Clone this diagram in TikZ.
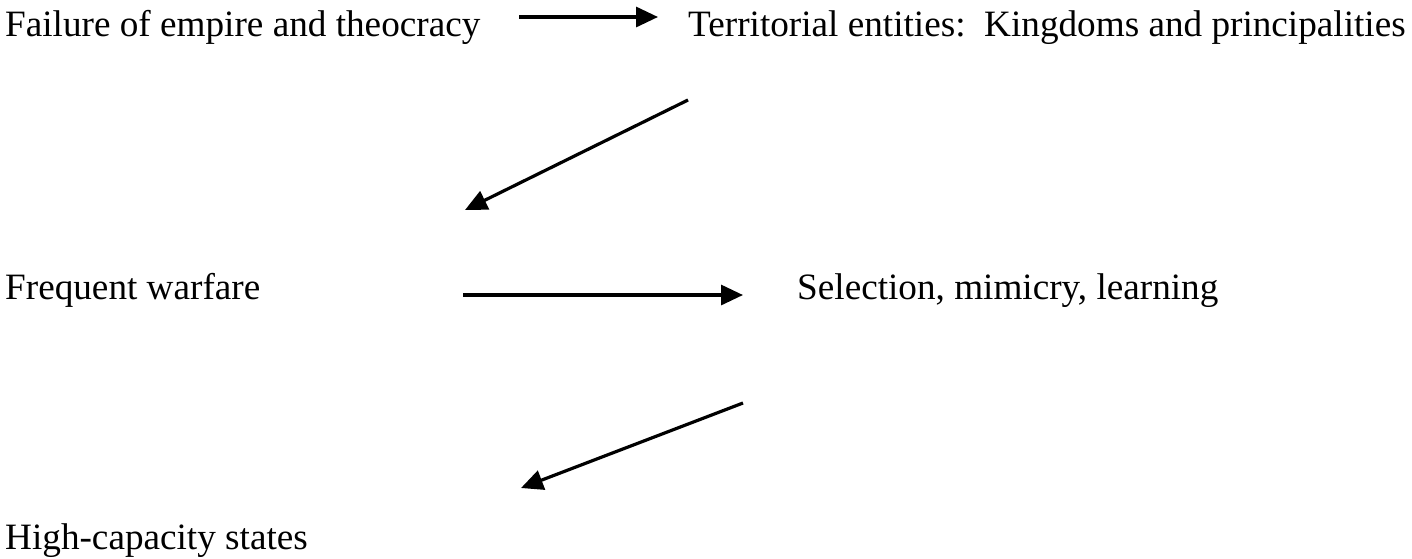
\documentclass[tikz,border=0pt]{standalone}
\usepackage{fontspec}
\setmainfont{Liberation Serif}
\usetikzlibrary{arrows.meta}
\begin{document}
\begin{tikzpicture}[x=1pt,y=-1pt,
  lbl/.style={anchor=base west,inner sep=0pt,font=\fontsize{37.2}{44}\selectfont},
  arr/.style={line width=3.2pt,-{Triangle[length=22pt,width=20pt]}}]
\useasboundingbox (0,0) rectangle (1412,558);
\node[lbl] (fail) at (5,36) {Failure of empire and theocracy};
\node[lbl] (terr) at (688,36) {Territorial entities:\ \ Kingdoms and principalities};
\node[lbl] (war) at (5,299) {Frequent warfare};
\node[lbl] (sel) at (797,299) {Selection, mimicry, learning};
\node[lbl] (high) at (5,549) {High-capacity states};
\coordinate (a1s) at (519,17);
\coordinate (a1e) at (658,17);
\coordinate (a2s) at (688,100);
\coordinate (a2e) at (465,210);
\coordinate (a3s) at (463,295);
\coordinate (a3e) at (743,295);
\coordinate (a4s) at (743,403);
\coordinate (a4e) at (521,488);
\draw[arr] (a1s) -- (a1e);
\draw[arr] (a2s) -- (a2e);
\draw[arr] (a3s) -- (a3e);
\draw[arr] (a4s) -- (a4e);
\end{tikzpicture}
\end{document}
